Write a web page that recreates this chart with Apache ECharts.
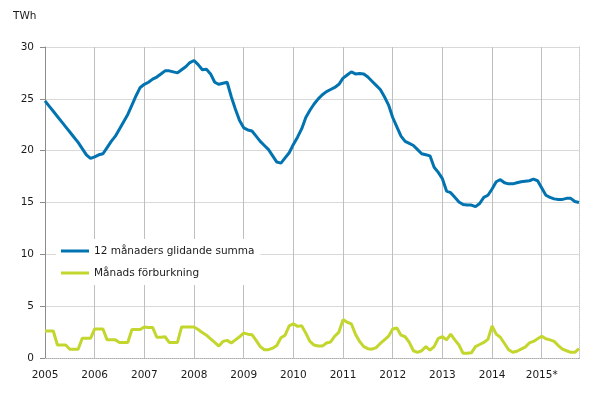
<!DOCTYPE html>
<html>
<head>
<meta charset="utf-8">
<script src="https://cdn.jsdelivr.net/npm/echarts@6/dist/echarts.min.js"></script>
<style>html,body{margin:0;padding:0;background:#fff}#c{width:605px;height:416px}</style>
</head>
<body>
<div id="c"></div>
<script>
var yearLabels = ['2005','2006','2007','2008','2009','2010','2011','2012','2013','2014','2015*'];
var seriesNames = ['12 månaders glidande summa', 'Månads förburkning'];
var rollingSum = [
  24.8, 24.3, 23.8, 23.3, 22.8, 22.3, 21.8, 21.3, 20.8, 20.2, 19.6, 19.25,
  19.4, 19.6, 19.7, 20.3, 20.9, 21.4, 22.1, 22.8, 23.5, 24.4, 25.3, 26.1,
  26.4, 26.6, 26.9, 27.1, 27.4, 27.7, 27.7, 27.6, 27.5, 27.8, 28.1, 28.5,
  28.7, 28.3, 27.8, 27.85, 27.4, 26.6, 26.4, 26.5, 26.6, 25.2, 24.0, 22.9,
  22.2, 22.0, 21.9, 21.4, 20.9, 20.5, 20.1, 19.5, 18.9, 18.8, 19.3, 19.8,
  20.6, 21.3, 22.1, 23.2, 23.9, 24.5, 25.0, 25.4, 25.7, 25.9, 26.1, 26.4,
  27.0, 27.3, 27.6, 27.4, 27.45, 27.4, 27.1, 26.7, 26.3, 25.9, 25.2, 24.4,
  23.2, 22.3, 21.4, 20.9, 20.7, 20.5, 20.1, 19.7, 19.6, 19.5, 18.4, 17.9,
  17.3, 16.1, 15.95, 15.5, 15.05, 14.8, 14.75, 14.75, 14.6, 14.9, 15.5, 15.7,
  16.3, 17.0, 17.2, 16.9, 16.8, 16.8, 16.9, 17.0, 17.05, 17.1, 17.25, 17.1,
  16.4, 15.7, 15.5, 15.35, 15.3, 15.3, 15.4, 15.4, 15.1, 15.0
];
var monthly = [
  2.6, 2.6, 2.6, 1.25, 1.25, 1.25, 0.85, 0.85, 0.85, 1.9, 1.9, 1.9,
  2.8, 2.8, 2.8, 1.75, 1.75, 1.75, 1.5, 1.5, 1.5, 2.75, 2.75, 2.75,
  3.0, 2.95, 2.95, 2.0, 2.0, 2.05, 1.5, 1.5, 1.5, 3.0, 3.0, 3.0,
  3.0, 2.75, 2.45, 2.2, 1.85, 1.5, 1.15, 1.6, 1.7, 1.45, 1.75, 2.05,
  2.4, 2.3, 2.25, 1.7, 1.1, 0.8, 0.8, 0.95, 1.2, 1.95, 2.2, 3.1,
  3.3, 3.05, 3.1, 2.4, 1.6, 1.25, 1.15, 1.15, 1.45, 1.55, 2.1, 2.5,
  3.7, 3.45, 3.3, 2.3, 1.6, 1.1, 0.9, 0.85, 1.0, 1.4, 1.75, 2.1,
  2.8, 2.9, 2.2, 2.05, 1.5, 0.7, 0.55, 0.7, 1.1, 0.75, 1.1, 1.9,
  2.05, 1.75, 2.3, 1.75, 1.25, 0.45, 0.45, 0.5, 1.1, 1.3, 1.5, 1.8,
  3.1, 2.3, 2.0, 1.4, 0.8, 0.55, 0.65, 0.85, 1.05, 1.45, 1.6, 1.85,
  2.1, 1.85, 1.75, 1.6, 1.2, 0.85, 0.7, 0.55, 0.55, 0.9
];
var months = [];
for (var i = 0; i < rollingSum.length; i++) {
  months.push(yearLabels[Math.floor(i / 12)] + '-' + ((i % 12) + 1));
}
var FONT = 'DejaVu Sans';
var FS = 10.5;
var chart = echarts.init(document.getElementById('c'), null, {renderer: 'canvas'});
chart.setOption({
  animation: false,
  backgroundColor: '#fff',
  textStyle: {fontFamily: FONT},
  graphic: [{
    type: 'text', left: 13, top: 11,
    style: {text: 'TWh', font: FS + 'px "DejaVu Sans"', fill: '#1a1a1a'}
  }],
  grid: {left: 45, right: 26, top: 47, bottom: 58, containLabel: false},
  legend: {
    orient: 'vertical', left: 56, top: 239,
    backgroundColor: '#fff', padding: [5, 6, 5, 5],
    icon: 'rect', itemWidth: 28, itemHeight: 3, itemGap: 8,
    textStyle: {fontFamily: FONT, fontSize: FS, color: '#1a1a1a', lineHeight: 14},
    data: seriesNames
  },
  xAxis: [{
    type: 'category', data: months, boundaryGap: false,
    axisLine: {lineStyle: {color: '#7f7f7f', width: 1}},
    axisTick: {show: false},
    axisLabel: {
      interval: function (idx) { return idx % 12 === 0; },
      formatter: function (v, idx) { return yearLabels[Math.floor(idx / 12)]; },
      fontFamily: FONT, fontSize: FS, color: '#1a1a1a', margin: 12
    },
    splitLine: {show: true, interval: function (idx) { return idx % 12 === 0; },
      lineStyle: {color: '#bfbfbf', width: 1}}
  }, {
    type: 'category', data: months, boundaryGap: false, position: 'top',
    axisLine: {lineStyle: {color: '#c8c8c8', type: 'dotted'}},
    axisTick: {show: false}, axisLabel: {show: false}, splitLine: {show: false}
  }],
  yAxis: [{
    type: 'value', min: 0, max: 30, interval: 5,
    axisLine: {show: true, lineStyle: {color: '#8c8c8c'}},
    axisTick: {show: true, length: 5, lineStyle: {color: '#8c8c8c'}},
    axisLabel: {fontFamily: FONT, fontSize: FS, color: '#1a1a1a', margin: 11},
    splitLine: {lineStyle: {color: '#d9d9d9', width: 1}}
  }, {
    type: 'value', min: 0, max: 30, interval: 5, position: 'right',
    axisLine: {show: true, lineStyle: {color: '#c8c8c8', type: 'dotted'}},
    axisTick: {show: false}, axisLabel: {show: false}, splitLine: {show: false}
  }],
  series: [{
    name: seriesNames[1], type: 'line', data: monthly, symbol: 'none',
    lineStyle: {color: '#C3D62D', width: 3}, itemStyle: {color: '#C3D62D'}, z: 3
  }, {
    name: seriesNames[0], type: 'line', data: rollingSum, symbol: 'none',
    lineStyle: {color: '#0073B0', width: 3}, itemStyle: {color: '#0073B0'}, z: 4
  }]
});
</script>
</body>
</html>
